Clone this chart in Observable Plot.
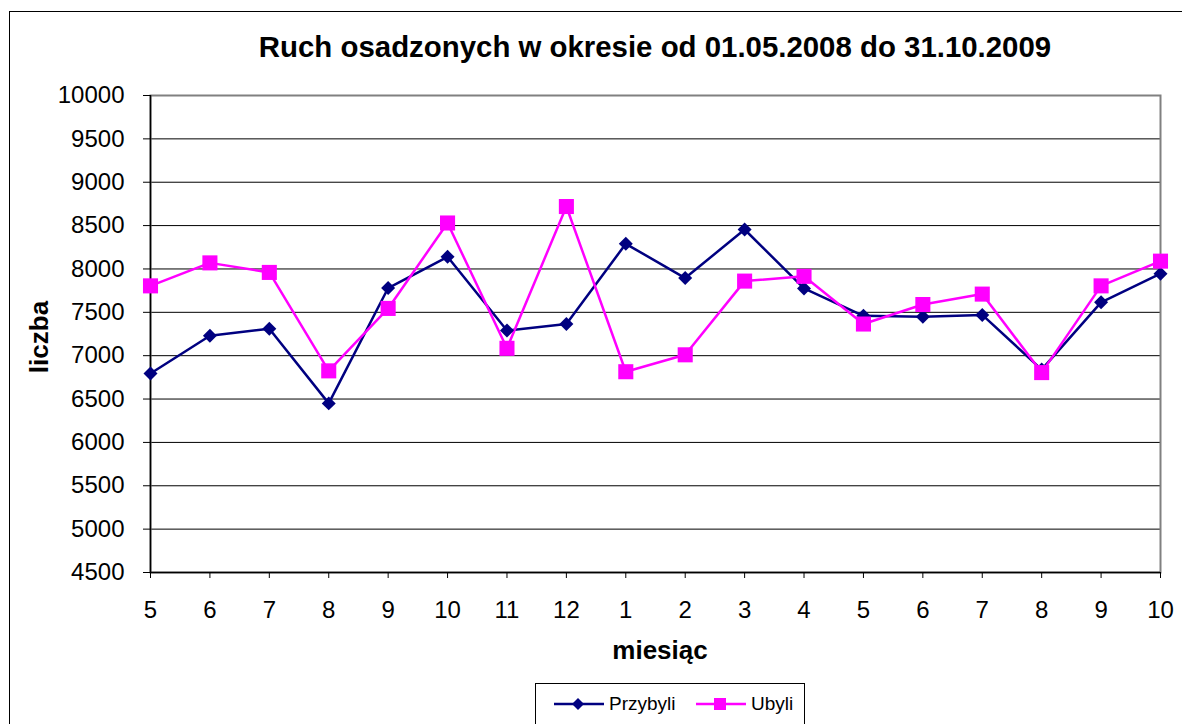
<!DOCTYPE html>
<html>
<head>
<meta charset="utf-8">
<script src="https://cdn.jsdelivr.net/npm/d3@7"></script>
<script src="https://cdn.jsdelivr.net/npm/@observablehq/plot@0.6"></script>
<style>
  body { margin: 0; background: #fff; font-family: "Liberation Sans", Arial, sans-serif; }
  #wrap { position: relative; width: 1182px; height: 724px; overflow: hidden; background: #fff; }
  #border { position: absolute; left: 9px; top: 11px; width: 1200px; height: 800px; border: 1px solid #000; box-sizing: border-box; }
  #title { position: absolute; left: 150px; width: 1010px; top: 32px; text-align: center; font-weight: bold; font-size: 29.4px; line-height: 29px; color: #000; white-space: nowrap; }
  #chart { position: absolute; left: 0; top: 0; }
  #ylabel { position: absolute; left: 39px; top: 337px; transform: translate(-50%, -50%) rotate(-90deg); font-weight: bold; font-size: 26px; line-height: 26px; white-space: nowrap; }
  #xlabel { position: absolute; left: 660px; top: 637px; transform: translateX(-50%); font-weight: bold; font-size: 26px; line-height: 26px; white-space: nowrap; }
  #legend { position: absolute; left: 535px; top: 683px; width: 270px; height: 60px; border: 1px solid #000; box-sizing: border-box; font-size: 19px; }
  #legend .item { position: absolute; top: 8px; height: 24px; display: flex; align-items: center; }
  #legend svg { margin-right: 4px; }
</style>
</head>
<body>
<div id="wrap">
  <div id="border"></div>
  <div id="chart"></div>
  <div id="title">Ruch osadzonych w okresie od 01.05.2008 do 31.10.2009</div>
  <div id="ylabel">liczba</div>
  <div id="xlabel">miesiąc</div>
  <div id="legend"></div>
</div>
<script>
// Data
const periods = ["2008-05","2008-06","2008-07","2008-08","2008-09","2008-10","2008-11","2008-12",
                 "2009-01","2009-02","2009-03","2009-04","2009-05","2009-06","2009-07","2009-08","2009-09","2009-10"];
const monthLabels = ["5","6","7","8","9","10","11","12","1","2","3","4","5","6","7","8","9","10"];
const przybyli = [6795, 7230, 7310, 6450, 7780, 8140, 7290, 7365, 8290, 7895, 8455, 7775, 7460, 7450, 7470, 6840, 7615, 7945];
const ubyli    = [7805, 8070, 7960, 6825, 7545, 8530, 7085, 8720, 6815, 7010, 7860, 7915, 7365, 7590, 7710, 6805, 7805, 8090];
const yTicks = [4500, 5000, 5500, 6000, 6500, 7000, 7500, 8000, 8500, 9000, 9500, 10000];
const seriesNames = ["Przybyli", "Ubyli"];
const seriesColors = ["#000080", "#FF00FF"];

const rows = [];
periods.forEach((p, i) => {
  rows.push({period: p, value: przybyli[i], series: seriesNames[0]});
  rows.push({period: p, value: ubyli[i], series: seriesNames[1]});
});
const labelOf = Object.fromEntries(periods.map((p, i) => [p, monthLabels[i]]));
const dataA = rows.filter(d => d.series === seriesNames[0]);
const dataB = rows.filter(d => d.series === seriesNames[1]);

const chart = Plot.plot({
  width: 1182,
  height: 640,
  marginLeft: 150,
  marginRight: 22,
  marginTop: 95,
  marginBottom: 68,
  style: {fontFamily: "'Liberation Sans', Arial, sans-serif", fontSize: "24px", color: "#000", background: "transparent", overflow: "visible"},
  x: {type: "point", domain: periods, padding: 0, round: false},
  y: {domain: [4500, 10000]},
  marks: [
    Plot.ruleY(yTicks.filter(v => v > 4500 && v < 10000), {stroke: "#000", strokeWidth: 1}),
    Plot.frame({stroke: "#808080", strokeWidth: 2}),
    Plot.axisY({ticks: yTicks, tickSize: 7, tickPadding: 19, label: null, stroke: "#000", tickFormat: d => String(d)}),
    Plot.axisX({tickSize: 6, tickPadding: 22, label: null, tickFormat: d => labelOf[d]}),
    Plot.ruleX([periods[0]], {stroke: "#000", strokeWidth: 1.5}),
    Plot.ruleY([4500], {stroke: "#000", strokeWidth: 1.5}),
    Plot.line(dataA, {x: "period", y: "value", stroke: seriesColors[0], strokeWidth: 2.5}),
    Plot.line(dataB, {x: "period", y: "value", stroke: seriesColors[1], strokeWidth: 2.5}),
    Plot.dot(dataA, {x: "period", y: "value", symbol: "diamond2", r: 6.3, fill: seriesColors[0], stroke: "none"}),
    Plot.dot(dataB, {x: "period", y: "value", symbol: "square", r: 8.5, fill: seriesColors[1], stroke: "none"})
  ]
});
document.getElementById("chart").appendChild(chart);

// Legend
const legend = document.getElementById("legend");
const positions = [17, 159];
seriesNames.forEach((name, i) => {
  const item = document.createElement("div");
  item.className = "item";
  item.style.left = positions[i] + "px";
  const marker = i === 0
    ? `<path d="M25,6 L31,12 L25,18 L19,12 Z" fill="${seriesColors[i]}"/>`
    : `<rect x="19" y="6" width="12" height="12" fill="${seriesColors[i]}"/>`;
  item.innerHTML = `<svg width="52" height="24"><line x1="1" y1="12" x2="51" y2="12" stroke="${seriesColors[i]}" stroke-width="2.5"/>${marker}</svg><span>${name}</span>`;
  legend.appendChild(item);
});
</script>
</body>
</html>
